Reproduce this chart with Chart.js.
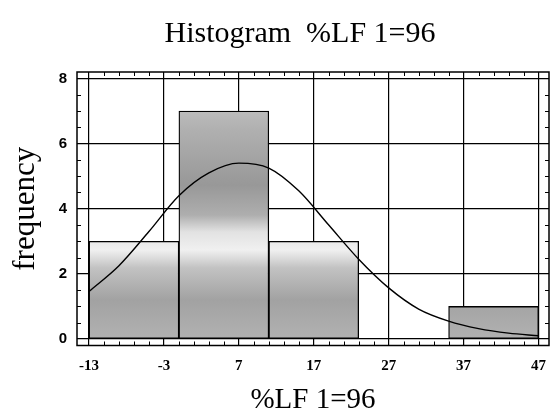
<!DOCTYPE html>
<html>
<head>
<meta charset="utf-8">
<style>
  html, body { margin: 0; padding: 0; background: #fff; }
  #wrap { width: 550px; height: 416px; }
</style>
<script src="https://cdn.jsdelivr.net/npm/chart.js@4"></script>
</head>
<body>
<div id="wrap"><canvas id="histChart" width="550" height="416"></canvas></div>
<script>
const chartTitle = "Histogram  %LF 1=96";
const xAxisTitle = "%LF 1=96";
const yAxisTitle = "frequency";

// histogram bins (width 12) and their counts
const binCenters = [-7, 5, 17, 29, 41];
const binCounts = [3, 7, 3, 0, 1];

// fitted normal curve
const curveX = [-13, -9, -5, -1, 3, 7, 11, 15, 19, 23, 27, 31, 35, 39, 43, 47];
const curveY = [1.46, 2.25, 3.3, 4.4, 5.1, 5.4, 5.25, 4.55, 3.5, 2.45, 1.57, 0.92, 0.55, 0.32, 0.18, 0.1];

const xTicks = [-13, -3, 7, 17, 27, 37, 47];
const yTicks = [0, 2, 4, 6, 8];

const SERIF = "'Liberation Serif', 'Times New Roman', serif";
const X_MIN = -14.6, X_MAX = 48.4;

let shade = null;
function barShade(c) {
  if (shade) return shade;
  const g = c.createLinearGradient(0, 0, 0, 416);
  const stops = [
    [100, "#c2c2c2"], [130, "#b0b0b0"], [185, "#989898"], [215, "#aeaeae"],
    [232, "#e2e2e2"], [250, "#f0f0f0"], [268, "#c2c2c2"], [300, "#a2a2a2"],
    [340, "#b2b2b2"],
  ];
  stops.forEach(([y, col]) => g.addColorStop(y / 416, col));
  shade = g;
  return g;
}

// frame, minor ticks and the main title
const framePlugin = {
  id: "frame",
  afterDraw(chart) {
    const { ctx, chartArea: a, scales } = chart;
    const xs = scales.x, ys = scales.y;
    ctx.save();
    ctx.strokeStyle = "#000";
    ctx.lineWidth = 1.5;
    ctx.strokeRect(a.left, a.top, a.right - a.left, a.bottom - a.top);

    ctx.lineWidth = 1;
    ctx.beginPath();
    for (let v = 0.5; v < 8.2; v += 0.5) {
      if (v % 2 === 0) continue;
      const y = Math.round(ys.getPixelForValue(v)) + 0.5;
      ctx.moveTo(a.left, y); ctx.lineTo(a.left + 4, y);
      ctx.moveTo(a.right, y); ctx.lineTo(a.right - 4, y);
    }
    for (let v = -13; v <= 48; v += 2) {
      if ((v + 13) % 10 === 0) continue;
      const x = Math.round(xs.getPixelForValue(v)) + 0.5;
      ctx.moveTo(x, a.top); ctx.lineTo(x, a.top + 4);
      ctx.moveTo(x, a.bottom); ctx.lineTo(x, a.bottom - 4);
    }
    ctx.stroke();

    ctx.fillStyle = "#000";
    ctx.font = "30px " + SERIF;
    ctx.textAlign = "center";
    ctx.textBaseline = "alphabetic";
    ctx.fillText(chartTitle, 300, 42);
    ctx.restore();
  },
};

new Chart(document.getElementById("histChart"), {
  type: "bar",
  data: {
    datasets: [
      {
        type: "line",
        xAxisID: "x",
        data: curveX.map((x, i) => ({ x, y: curveY[i] })),
        borderColor: "#000",
        borderWidth: 1.4,
        pointRadius: 0,
        fill: false,
        cubicInterpolationMode: "monotone",
        order: 0,
      },
      {
        type: "bar",
        xAxisID: "xb",
        data: binCenters.map((x, i) => ({ x, y: binCounts[i] })),
        backgroundColor: (c) => barShade(c.chart.ctx),
        borderColor: "#000",
        borderWidth: 1.3,
        borderSkipped: false,
        barPercentage: 1,
        categoryPercentage: 1,
        grouped: false,
        order: 1,
      },
    ],
  },
  options: {
    responsive: false,
    animation: false,
    layout: { padding: { top: 72, right: 1, left: 0, bottom: 0 } },
    plugins: {
      legend: { display: false },
      tooltip: { enabled: false },
      title: { display: false },
    },
    scales: {
      // empty axis for the bars, so bar width follows the bin width
      xb: {
        type: "linear",
        position: "bottom",
        min: X_MIN,
        max: X_MAX,
        offset: false,
        afterBuildTicks: (s) => { s.ticks = binCenters.map((v) => ({ value: v })); },
        afterFit: (s) => { s.height = 0; s.paddingLeft = 0; s.paddingRight = 0; },
        grid: { display: false, drawTicks: false },
        border: { display: false },
        ticks: { display: false },
      },
      x: {
        type: "linear",
        position: "bottom",
        min: X_MIN,
        max: X_MAX,
        offset: false,
        afterBuildTicks: (s) => { s.ticks = xTicks.map((v) => ({ value: v })); },
        afterFit: (s) => { s.height = 70.5; s.paddingLeft = 0; s.paddingRight = 0; },
        grid: { color: "#000", lineWidth: 1.2, drawTicks: false, offset: false },
        border: { display: false },
        ticks: {
          color: "#000",
          padding: 12,
          maxRotation: 0,
          font: { family: SERIF, size: 15, weight: "bold" },
        },
        title: {
          display: true,
          text: xAxisTitle,
          color: "#000",
          font: { family: SERIF, size: 29, lineHeight: 1 },
          padding: { top: 0, bottom: 1 },
        },
      },
      y: {
        type: "linear",
        min: -0.2,
        max: 8.2,
        afterBuildTicks: (s) => { s.ticks = yTicks.map((v) => ({ value: v })); },
        afterFit: (s) => { s.width = 77; },
        grid: { color: "#000", lineWidth: 1.2, drawTicks: false },
        border: { display: false },
        ticks: {
          color: "#000",
          padding: 10,
          font: { family: "'Liberation Sans', Arial, sans-serif", size: 15, weight: "bold" },
        },
        title: {
          display: true,
          text: yAxisTitle,
          color: "#000",
          font: { family: SERIF, size: 31, lineHeight: 1 },
          padding: { top: 10, bottom: 0 },
        },
      },
    },
  },
  plugins: [framePlugin],
});
</script>
</body>
</html>
